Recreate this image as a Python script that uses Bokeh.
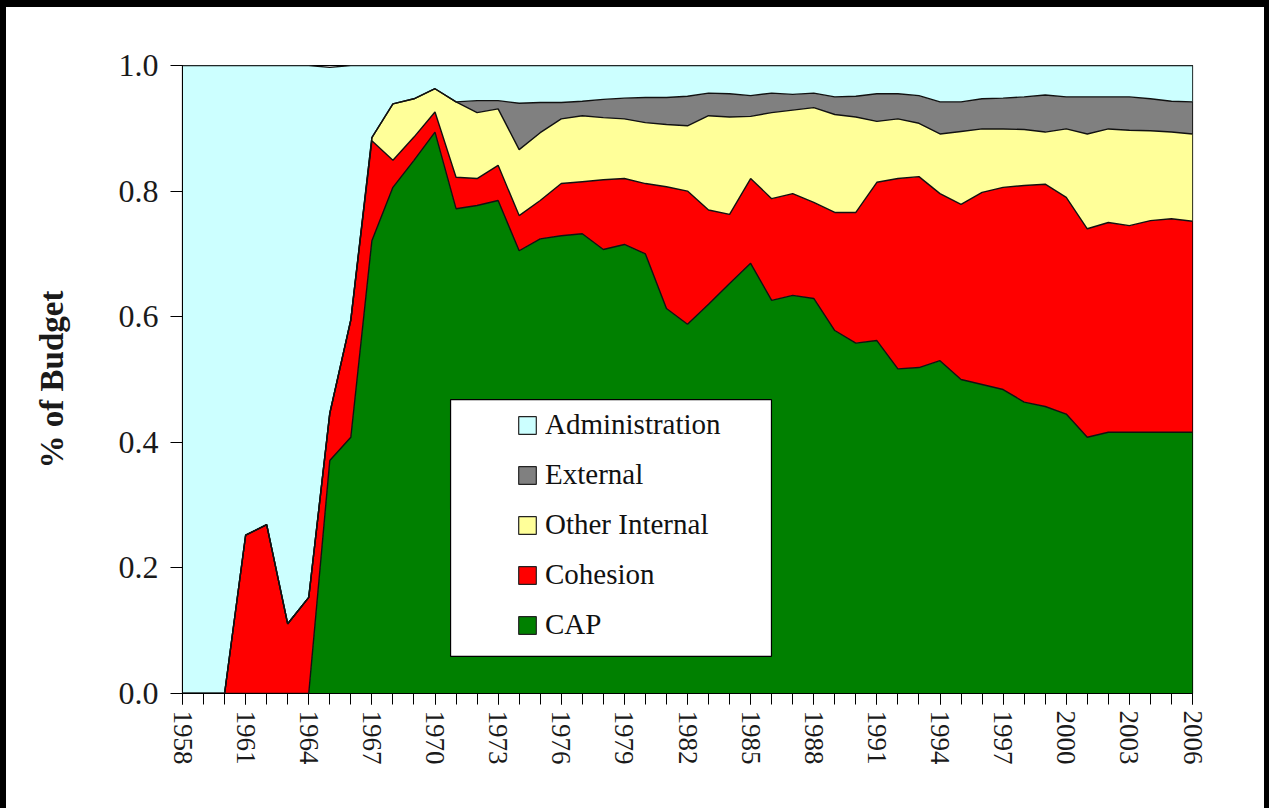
import math
from bokeh.plotting import figure
from bokeh.models import (ColumnDataSource, FixedTicker, PrintfTickFormatter, Legend,
                          LegendItem, BoxAnnotation, Range1d)
from bokeh.embed import file_html
from bokeh.resources import INLINE

# ---------------- data (shares of EU budget) ----------------
years = list(range(1958, 2007))

cap = [0, 0, 0, 0, 0, 0, 0,
       .371, .408, .721, .806, .849, .894, .772, .777, .785, .705, .724, .729, .732,
       .707, .715, .700, .613, .588, .620, .653, .685, .626, .634, .629, .578, .558,
       .562, .517, .519, .530, .500, .492, .484, .464, .457, .445, .408, .416, .416,
       .416, .416, .416]

cohesion = [0, 0, 0, .252, .269, .111, .153, .075, .187, .159, .043, .037, .032, .050,
            .043, .056, .056, .061, .083, .083, .111, .105, .112, .194, .212, .150, .110,
            .135, .162, .162, .153, .188, .208, .252, .303, .304, .266, .279, .306, .322,
            .345, .354, .345, .332, .334, .329, .337, .340, .336]

other_internal = [0, 0, 0, 0, 0, 0, 0, 0, 0,
                  .005, .090, .061, .037, .120, .105, .090, .105, .108, .103, .105, .099,
                  .095, .097, .099, .104, .150, .155, .099, .137, .133, .151, .156, .152,
                  .097, .095, .085, .095, .116, .101, .093, .089, .083, .109, .151, .149,
                  .152, .143, .138, .139]

external = [0, 0, 0, 0, 0, 0, 0, 0, 0, 0, 0, 0, 0, 0,
            .019, .013, .074, .048, .026, .023, .029, .033, .040, .043, .047, .036, .037,
            .033, .031, .025, .023, .028, .033, .044, .040, .044, .051, .047, .048, .049,
            .052, .059, .051, .059, .051, .053, .051, .049, .051]

administration = [1, 1, 1, .748, .731, .889, .847, .551, .405, .115, .061, .053, .037,
                  .058, .056, .056, .060, .059, .059, .057, .054, .052, .051, .051, .049,
                  .044, .045, .048, .044, .046, .044, .050, .049, .045, .045, .048, .058,
                  .058, .053, .052, .050, .047, .050, .050, .050, .050, .053, .057, .058]

series_names = ["CAP", "Cohesion", "Other Internal", "External", "Administration"]
series_keys = ["cap", "cohesion", "other", "external", "admin"]
series_colors = ["#008000", "#FF0000", "#FFFF99", "#808080", "#CCFFFF"]

x_labels_every = 3
y_ticks = [0.0, 0.2, 0.4, 0.6, 0.8, 1.0]

src = ColumnDataSource(dict(year=years, cap=cap, cohesion=cohesion, other=other_internal,
                            external=external, admin=administration))

SERIF = "Liberation Serif"

W, H = 1269, 808
p = figure(width=W, height=H, output_backend="svg", toolbar_location=None,
           x_range=Range1d(years[0], years[-1]), y_range=Range1d(0, 1),
           min_border_left=182, min_border_right=W - 1192, min_border_top=65,
           min_border_bottom=H - 693)
# picture frame around the whole image (left, top, right edges)
p.styles = {"background-color": "white",
            "box-shadow": "inset 6px 0 0 0 black, inset 0 7px 0 0 black, inset -5px 0 0 0 black"}

p.background_fill_color = "white"
p.border_fill_alpha = 0
p.outline_line_color = "black"
p.outline_line_width = 1.2
p.xgrid.visible = False
p.ygrid.visible = False

# stacked areas and their outlines
p.varea_stack(stackers=series_keys, x="year", color=series_colors, source=src)
p.vline_stack(stackers=series_keys, x="year", color="#111111", line_width=1.4, source=src)

# axes
xa = p.xaxis[0]
xa.ticker = FixedTicker(ticks=years[::x_labels_every], minor_ticks=years)
xa.major_label_orientation = -math.pi / 2
xa.major_label_text_font = SERIF
xa.major_label_text_font_size = "27px"
xa.major_label_text_color = "#1a1a1a"
xa.major_tick_out = 11
xa.major_tick_in = 0
xa.minor_tick_out = 11
xa.minor_tick_in = 0
xa.major_label_standoff = 6
xa.axis_line_color = "black"

ya = p.yaxis[0]
ya.ticker = FixedTicker(ticks=y_ticks)
ya.formatter = PrintfTickFormatter(format="%.1f")
ya.major_label_text_font = SERIF
ya.major_label_text_font_size = "32px"
ya.major_label_text_color = "#1a1a1a"
ya.major_tick_out = 12
ya.major_tick_in = 0
ya.minor_tick_line_color = None
ya.major_label_standoff = 12
ya.axis_label = "% of Budget"
ya.axis_label_text_font = SERIF
ya.axis_label_text_font_style = "bold"
ya.axis_label_text_font_size = "33px"
ya.axis_label_text_color = "#1a1a1a"
ya.axis_label_standoff = 46

# legend box and legend
box = BoxAnnotation(left=1970.74, right=1985.99, bottom=0.059, top=0.468,
                    fill_color="white", fill_alpha=1, line_color="black",
                    line_width=1.2, line_alpha=1)
p.add_layout(box)

nan = float("nan")
dummies = {}
for name, color in zip(series_names, series_colors):
    dummies[name] = p.quad(left=[nan], right=[nan], top=[nan], bottom=[nan],
                           fill_color=color, line_color="#222222", line_width=1.2)

legend = Legend(items=[LegendItem(label=n, renderers=[dummies[n]]) for n in series_names[::-1]],
                location=(334, 52), padding=0, spacing=17, margin=0,
                glyph_width=22, glyph_height=22, label_height=22, label_standoff=7,
                label_text_font=SERIF, label_text_font_size="29px",
                label_text_color="#111111",
                background_fill_alpha=0, border_line_color=None)
p.add_layout(legend)

open("out.html", "w").write(file_html(p, INLINE))
